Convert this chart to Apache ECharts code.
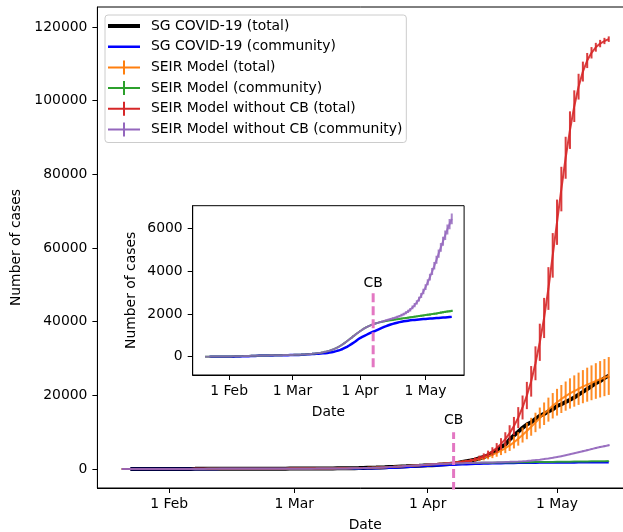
<!DOCTYPE html>
<html>
<head>
<meta charset="utf-8">
<script src="https://cdn.jsdelivr.net/npm/echarts@6/dist/echarts.min.js"></script>
<style>
  html, body { margin: 0; padding: 0; background: #fff; }
  #chart { width: 623px; height: 532px; }
</style>
</head>
<body>
<div id="chart"></div>
<script>
// x values are days counted from 1 Jan 2020 (1 Jan = 0)
const modelStart = 20   // 21 Jan
const dataStart = 22    // 23 Jan
const cbDay = 97        // 7 Apr, circuit breaker
const tickDays = [31, 60, 91, 121]
const tickLabels = ['1 Feb', '1 Mar', '1 Apr', '1 May']
const mainYTicks = [0, 20000, 40000, 60000, 80000, 100000, 120000]
const insetYTicks = [0, 2000, 4000, 6000]
const cbMain = [-6000, 10000]
const cbInset = [-500, 3000]

// SG reported cases, 23 Jan .. 13 May
const sgTotal = [
  1, 3, 3, 4, 5, 7, 7, 10, 13,
  16, 18, 18, 24, 28, 30, 33, 40, 43, 45, 47, 50, 58, 67, 72, 75, 77, 81, 84, 84, 85, 89, 89, 90, 91, 93, 96, 98, 102,
  106, 108, 110, 112, 117, 130, 138, 150, 160, 166, 178, 187, 200, 212, 226, 243, 266, 313, 345, 385, 432, 455, 509, 558, 631, 683, 732, 802, 844, 879, 926,
  1000, 1049, 1114, 1189, 1309, 1375, 1481, 1623, 1910, 2108, 2299, 2532, 2918, 3252, 3699, 4427, 5050, 5992, 6588, 8014, 9125, 10141, 11178, 12075, 12693, 13624, 14423, 14951, 15641, 16169,
  17101, 17548, 18205, 18778, 19410, 20198, 20939, 21707, 22460, 23336, 23822, 24671, 25346
]
const sgCommunity = [
  0, 0, 0, 0, 0, 0, 0, 0, 0,
  0, 0, 0, 5, 9, 12, 15, 19, 22, 24, 26, 29, 36, 44, 49, 52, 54, 57, 59, 59, 60, 63, 63, 64, 65, 67, 69, 71, 74,
  77, 79, 81, 83, 87, 95, 101, 108, 114, 119, 127, 133, 140, 147, 155, 164, 175, 193, 210, 232, 258, 285, 320, 360, 410, 460, 520, 585, 655, 725, 800,
  870, 925, 975, 1025, 1075, 1120, 1165, 1210, 1255, 1300, 1345, 1390, 1430, 1470, 1505, 1535, 1565, 1590, 1615, 1635, 1655, 1670, 1685, 1698, 1710, 1720, 1730, 1740, 1750, 1758,
  1765, 1773, 1781, 1789, 1797, 1805, 1813, 1821, 1829, 1837, 1845, 1853, 1861
]

// SEIR model, 21 Jan .. 13 May
const seirTotal = [
  1, 1, 2, 3, 4, 5, 7, 8, 10, 12, 14,
  16, 18, 21, 24, 27, 30, 33, 37, 41, 45, 49, 53, 57, 61, 65, 68, 71, 74, 77, 80, 83, 86, 88, 90, 92, 94, 96, 99, 102,
  105, 108, 111, 115, 120, 126, 133, 141, 150, 160, 171, 184, 199, 216, 236, 259, 285, 315, 350, 390, 435, 485, 540, 600, 665, 735, 810, 885, 960, 1035, 1110,
  1190, 1270, 1350, 1430, 1510, 1600, 1700, 1810, 1940, 2090, 2270, 2480, 2740, 3050, 3420, 3860, 4370, 4960, 5630, 6390, 7240, 8180, 9210, 10310, 11460, 12640, 13830, 15000, 16120, 17170,
  18130, 19000, 19790, 20510, 21170, 21780, 22350, 22890, 23400, 23890, 24360, 24810, 25250
]
const seirTotalErr = [
  0, 0, 0, 1, 1, 1, 1, 1, 1, 2, 2,
  2, 2, 2, 3, 3, 3, 3, 4, 4, 4, 5, 5, 5, 6, 6, 6, 7, 7, 7, 7, 8, 8, 8, 8, 9, 9, 9, 10, 10,
  10, 11, 11, 12, 12, 13, 14, 15, 16, 17, 18, 20, 22, 24, 26, 29, 32, 36, 40, 45, 50, 56, 63, 70, 78, 87, 96, 106, 117, 128, 140,
  155, 170, 185, 200, 220, 240, 265, 295, 330, 375, 430, 500, 580, 680, 790, 910, 1040, 1180, 1330, 1490, 1660, 1840, 2030, 2230, 2430, 2640, 2850, 3060, 3260, 3450,
  3630, 3800, 3960, 4110, 4250, 4380, 4500, 4620, 4730, 4840, 4940, 5040, 5140
]
const seirComm = [
  0, 1, 1, 2, 2, 3, 4, 5, 6, 7, 8,
  10, 12, 14, 16, 19, 22, 25, 28, 31, 34, 37, 40, 43, 46, 49, 52, 55, 57, 59, 61, 63, 65, 67, 69, 71, 73, 75, 77, 80,
  83, 86, 89, 93, 97, 102, 108, 115, 123, 132, 142, 154, 168, 184, 203, 225, 250, 280, 315, 355, 400, 450, 510, 575, 645, 720, 800, 880, 960, 1040, 1120,
  1190, 1260, 1320, 1380, 1430, 1475, 1515, 1550, 1580, 1605, 1630, 1650, 1670, 1690, 1705, 1720, 1735, 1750, 1765, 1780, 1795, 1810, 1825, 1840, 1855, 1870, 1885, 1900, 1915, 1930,
  1945, 1960, 1975, 1990, 2005, 2020, 2040, 2060, 2080, 2095, 2110, 2125, 2140
]
const seirCommErr = [
  0, 0, 0, 0, 0, 0, 0, 0, 1, 1, 1,
  1, 1, 1, 1, 1, 2, 2, 2, 2, 2, 2, 2, 3, 3, 3, 3, 3, 3, 3, 3, 4, 4, 4, 4, 4, 4, 4, 4, 5,
  5, 5, 5, 6, 6, 6, 7, 7, 8, 8, 9, 10, 11, 12, 13, 14, 15, 16, 17, 18, 19, 20, 21, 22, 23, 24, 25, 26, 27, 28, 28,
  29, 30, 30, 31, 31, 32, 32, 33, 33, 34, 34, 35, 35, 36, 36, 37, 37, 38, 38, 39, 39, 40, 40, 41, 41, 42, 42, 43, 43, 44,
  44, 45, 45, 46, 46, 47, 47, 48, 48, 49, 49, 50, 50
]

// SEIR model without circuit breaker, 21 Jan .. 13 May
const noCbTotal = [
  1, 1, 2, 3, 4, 5, 7, 8, 10, 12, 14,
  16, 18, 21, 24, 27, 30, 33, 37, 41, 45, 49, 53, 57, 61, 65, 68, 71, 74, 77, 80, 83, 86, 88, 90, 92, 94, 96, 99, 102,
  105, 108, 111, 115, 120, 126, 133, 141, 150, 160, 171, 184, 199, 216, 236, 259, 285, 315, 350, 390, 435, 485, 540, 600, 665, 735, 810, 885, 960, 1035, 1110,
  1190, 1270, 1350, 1430, 1510, 1600, 1700, 1810, 1940, 2110, 2330, 2620, 2990, 3460, 4050, 4790, 5700, 6800, 8130, 9730, 11650, 13950, 16700, 19950, 23800, 28700, 34400, 41000, 49000, 58000,
  67000, 76000, 84500, 92000, 98500, 103800, 107900, 110900, 113000, 114500, 115500, 116200, 116700
]
const noCbTotalErr = [
  0, 0, 0, 1, 1, 1, 1, 1, 1, 2, 2,
  2, 2, 2, 3, 3, 3, 3, 4, 4, 4, 5, 5, 5, 6, 6, 6, 7, 7, 7, 7, 8, 8, 8, 8, 9, 9, 9, 10, 10,
  10, 11, 11, 12, 12, 13, 14, 15, 16, 17, 18, 20, 22, 24, 26, 29, 32, 36, 40, 45, 50, 56, 63, 70, 78, 87, 96, 106, 117, 128, 140,
  155, 170, 185, 200, 220, 240, 265, 295, 330, 380, 450, 540, 650, 780, 940, 1120, 1330, 1570, 1850, 2150, 2480, 2850, 3250, 3700, 4150, 4600, 5050, 5450, 5800, 6050,
  6150, 6050, 5700, 5100, 4300, 3500, 2700, 2050, 1550, 1200, 1000, 850, 750
]
const noCbComm = [
  0, 1, 1, 2, 2, 3, 4, 5, 6, 7, 8,
  10, 12, 14, 16, 19, 22, 25, 28, 31, 34, 37, 40, 43, 46, 49, 52, 55, 57, 59, 61, 63, 65, 67, 69, 71, 73, 75, 77, 80,
  83, 86, 89, 93, 97, 102, 108, 115, 123, 132, 142, 154, 168, 184, 203, 225, 250, 280, 315, 355, 400, 450, 510, 575, 645, 720, 800, 880, 960, 1040, 1120,
  1190, 1260, 1320, 1380, 1430, 1475, 1515, 1550, 1580, 1610, 1640, 1670, 1700, 1730, 1760, 1790, 1820, 1855, 1895, 1940, 1990, 2050, 2120, 2200, 2300, 2410, 2540, 2690, 2860, 3050,
  3250, 3480, 3720, 3980, 4250, 4530, 4820, 5110, 5400, 5680, 5950, 6200, 6450
]
const noCbCommErr = [
  0, 0, 0, 0, 0, 0, 0, 0, 1, 1, 1,
  1, 1, 1, 1, 1, 2, 2, 2, 2, 2, 2, 2, 3, 3, 3, 3, 3, 3, 3, 3, 4, 4, 4, 4, 4, 4, 4, 4, 5,
  5, 5, 5, 6, 6, 6, 7, 7, 8, 8, 9, 10, 11, 12, 13, 14, 15, 16, 17, 18, 19, 20, 21, 22, 23, 24, 25, 26, 27, 28, 28,
  29, 30, 30, 31, 31, 32, 32, 33, 33, 38, 40, 42, 44, 46, 48, 50, 52, 55, 58, 62, 66, 71, 76, 82, 88, 95, 102, 110, 118, 127,
  136, 145, 155, 165, 175, 185, 195, 205, 214, 223, 232, 241, 250
]

const FONT = 'DejaVu Sans'
const FS = 13.9
const names = [
  'SG COVID-19 (total)',
  'SG COVID-19 (community)',
  'SEIR Model (total)',
  'SEIR Model (community)',
  'SEIR Model without CB (total)',
  'SEIR Model without CB (community)'
]
const colors = ['#000000', '#0000ff', '#ff7f0e', '#2ca02c', '#d62728', '#9467bd']

function lineSeries (name, start, values, color, width, axis, z, opacity) {
  return {
    type: 'line',
    name,
    xAxisIndex: axis,
    yAxisIndex: axis,
    data: values.map((v, i) => [start + i, v]),
    showSymbol: false,
    symbol: 'none',
    lineStyle: { color, width, opacity: opacity == null ? 1 : opacity },
    itemStyle: { color },
    z,
    silent: true
  }
}

// vertical error bars, no caps (like plt.errorbar)
function errorSeries (name, start, values, errs, color, axis, z, opacity) {
  return {
    type: 'custom',
    name,
    xAxisIndex: axis,
    yAxisIndex: axis,
    data: values.map((v, i) => [start + i, v, errs[i]]),
    encode: { x: 0, y: 1 },
    clip: true,
    z,
    silent: true,
    itemStyle: { color },
    renderItem: (params, api) => {
      const x = api.value(0)
      const y = api.value(1)
      const e = api.value(2)
      const a = api.coord([x, y - e])
      const b = api.coord([x, y + e])
      return {
        type: 'line',
        shape: { x1: a[0], y1: a[1], x2: b[0], y2: b[1] },
        style: { stroke: color, lineWidth: 2, opacity }
      }
    }
  }
}

function cbSeries (axis, span) {
  return [
    {
      type: 'line',
      xAxisIndex: axis,
      yAxisIndex: axis,
      data: [[cbDay, span[0]], [cbDay, span[1]]],
      showSymbol: false,
      symbol: 'none',
      lineStyle: { color: '#e377c2', width: 3, type: [9, 4] },
      z: 20,
      silent: true
    },
    {
      type: 'scatter',
      xAxisIndex: axis,
      yAxisIndex: axis,
      data: [[cbDay, span[1]]],
      symbolSize: 0,
      itemStyle: { opacity: 1, color: '#000' },
      label: {
        show: true,
        formatter: 'CB',
        position: 'top',
        distance: axis === 0 ? 5 : 2,
        color: '#000',
        fontFamily: FONT,
        fontSize: FS
      },
      z: 21,
      silent: true
    }
  ]
}

const txt = { color: '#000', fontFamily: FONT, fontSize: FS }

function xAxisOf (grid, gap) {
  return {
    gridIndex: grid,
    type: 'value',
    min: 14.35,
    max: 138.65,
    axisLine: { onZero: false, lineStyle: { color: '#000', width: 1 } },
    axisTick: { customValues: tickDays, length: 5, lineStyle: { color: '#000', width: 1 } },
    axisLabel: Object.assign({ customValues: tickDays, margin: 9, formatter: v => tickLabels[tickDays.indexOf(v)] }, txt),
    splitLine: { show: false },
    name: 'Date',
    nameLocation: 'middle',
    nameGap: gap,
    nameTextStyle: txt
  }
}

function yAxisOf (grid, min, max, ticks, gap) {
  return {
    gridIndex: grid,
    type: 'value',
    min,
    max,
    axisLine: { show: true, onZero: false, lineStyle: { color: '#000', width: 1 } },
    axisTick: { show: true, customValues: ticks, length: 5, lineStyle: { color: '#000', width: 1 } },
    axisLabel: Object.assign({ customValues: ticks, margin: 10, formatter: v => String(v) }, txt),
    splitLine: { show: false },
    name: 'Number of cases',
    nameLocation: 'middle',
    nameGap: gap,
    nameTextStyle: txt
  }
}

// legend icons: 38x14 box, handle drawn in the left 32px
const speck = ' M0,0h0.01v0.01h-0.01z M37.99,13.99h0.01v0.01h-0.01z'
const iconThick = 'path://M0,5h32v4h-32z' + speck
const iconThin = 'path://M0,5.75h32v2.5h-32z' + speck
const iconBar = 'path://M0,6h32v2h-32z M15,0h2v14h-2z' + speck
const icons = [iconThick, iconThin, iconBar, iconBar, iconBar, iconBar]

const mChart = echarts.init(document.getElementById('chart'))

const options = {
  animation: false,
  backgroundColor: '#fff',
  textStyle: { fontFamily: FONT },
  grid: [
    { left: 97.4, top: 7, width: 535.7, height: 481, show: true, borderColor: '#000', borderWidth: 1, backgroundColor: 'transparent', containLabel: false, outerBoundsMode: 'none' },
    { left: 192.7, top: 205.7, width: 271.4, height: 169.3, show: true, borderColor: '#000', borderWidth: 1, backgroundColor: '#fff', containLabel: false, outerBoundsMode: 'none' }
  ],
  xAxis: [xAxisOf(0, 30), xAxisOf(1, 30)],
  yAxis: [
    yAxisOf(0, -5160, 125430, mainYTicks, 66),
    yAxisOf(1, -858, 7062, insetYTicks, 54)
  ],
  legend: {
    orient: 'vertical',
    left: 105,
    top: 15,
    itemWidth: 38,
    itemHeight: 14,
    itemGap: 6.7,
    padding: [4, 4, 6, 3],
    backgroundColor: '#fff',
    borderColor: '#cccccc',
    borderWidth: 1,
    borderRadius: 3,
    selectedMode: false,
    textStyle: txt,
    itemStyle: { borderWidth: 0 },
    data: names.map((n, i) => ({ name: n, icon: icons[i], itemStyle: { color: colors[i], borderWidth: 0 } }))
  },
  series: [
    // main axes
    lineSeries(names[0], dataStart, sgTotal, colors[0], 4, 0, 2),
    lineSeries(names[1], dataStart, sgCommunity, colors[1], 2.5, 0, 3),
    lineSeries(names[2], modelStart, seirTotal, colors[2], 2, 0, 4, 0.9),
    errorSeries(names[2], modelStart, seirTotal, seirTotalErr, colors[2], 0, 4, 0.9),
    lineSeries(names[3], modelStart, seirComm, colors[3], 2, 0, 5, 0.9),
    errorSeries(names[3], modelStart, seirComm, seirCommErr, colors[3], 0, 5, 0.9),
    lineSeries(names[4], modelStart, noCbTotal, colors[4], 2, 0, 6, 0.9),
    errorSeries(names[4], modelStart, noCbTotal, noCbTotalErr, colors[4], 0, 6, 0.9),
    lineSeries(names[5], modelStart, noCbComm, colors[5], 2, 0, 7, 0.9),
    errorSeries(names[5], modelStart, noCbComm, noCbCommErr, colors[5], 0, 7, 0.9),
    ...cbSeries(0, cbMain),
    // inset (community cases only)
    lineSeries(names[1], dataStart, sgCommunity, colors[1], 2.5, 1, 3),
    lineSeries(names[3], modelStart, seirComm, colors[3], 2, 1, 5, 0.9),
    errorSeries(names[3], modelStart, seirComm, seirCommErr, colors[3], 1, 5, 0.9),
    lineSeries(names[5], modelStart, noCbComm, colors[5], 2, 1, 7, 0.8),
    errorSeries(names[5], modelStart, noCbComm, noCbCommErr, colors[5], 1, 7, 0.8),
    ...cbSeries(1, cbInset)
  ]
}

mChart.setOption(options)
</script>
</body>
</html>
